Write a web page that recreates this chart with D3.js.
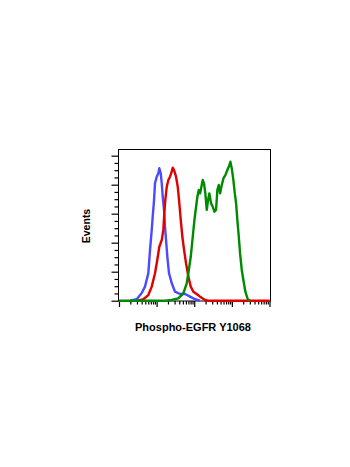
<!DOCTYPE html>
<html>
<head>
<meta charset="utf-8">
<script src="https://cdn.jsdelivr.net/npm/d3@7"></script>
<style>
  body { margin: 0; background: #fff; }
  text { font-family: "Liberation Sans", Arial, sans-serif; font-weight: bold; }
</style>
</head>
<body>
<div id="chart"></div>
<script>
// histogram data: intensity (log axis) and event counts
var blueX  = [1.96, 2.96, 4.02, 4.91, 6.01, 6.67, 7.41, 7.87, 8.53, 9.06, 10.07, 11.1, 11.8, 12.85, 13.67, 14.53, 15.73, 16.72, 17.78, 19.27, 21.36, 25.22, 30.85, 41.9, 56.9, 77.3, 105, 142.6]
var blueY  = [0, 1.0, 5.3, 9.7, 18.9, 34.9, 48.8, 57.9, 69.4, 81.0, 85.5, 87.9, 91.3, 87.9, 81.0, 71.7, 62.6, 51.0, 41.9, 30.3, 18.9, 12.0, 6.2, 4.6, 4.6, 2.8, 1.0, 0]
var redX   = [3.26, 4.43, 6.01, 7.41, 9.06, 10.4, 11.8, 13.7, 15.1, 16.0, 17.0, 18.6, 20.5, 22.7, 25.2, 26.8, 29.0, 32.8, 36.4, 39.4, 43.8, 48.3, 53.6, 60.5, 69.7, 80.7, 94.6, 116, 143, 194, 237, 10000]
var redY   = [0, 1.0, 3.9, 9.7, 18.9, 28.1, 37.2, 41.9, 48.8, 60.3, 69.4, 78.6, 83.2, 85.5, 89.0, 91.7, 90.1, 85.5, 78.6, 69.4, 55.7, 44.1, 35.0, 25.8, 16.6, 9.7, 6.2, 4.6, 2.8, 0.5, 0, 0]
var greenX = [1, 16.7, 25.2, 37.8, 51.3, 63.1, 69.7, 80.7, 91.2, 101, 112, 121, 132, 143, 155, 168, 182, 197, 215, 233, 252, 280, 310, 343, 380, 411, 448, 486, 526, 595, 672, 759, 859, 912, 994, 1096, 1196, 1295, 1400, 1527, 1652, 1833, 2023, 2286, 2648, 3048]
var greenY = [0, 0, 0.5, 1.6, 5.1, 12.0, 18.9, 30.3, 44.1, 55.6, 64.8, 71.7, 76.3, 74.0, 78.6, 83.2, 80.9, 74.0, 62.6, 69.4, 74.0, 67.1, 64.8, 61.4, 62.6, 76.3, 79.8, 74.0, 78.6, 84.3, 86.6, 90.1, 93.5, 95.8, 91.2, 83.2, 74.0, 67.1, 55.6, 44.1, 32.6, 21.2, 14.3, 6.2, 1.0, 0]
var yMajor = [0, 20, 40, 60, 80, 100]
var xMajor = [1, 10, 100, 1000, 10000]
var xLabel = 'Phospho-EGFR Y1068'
var yLabel = 'Events'

var svg = d3.select('#chart').append('svg')
    .attr('width', 350).attr('height', 467)

var x = d3.scaleLog().domain([1, 10000]).range([119, 269.5])
var y = d3.scaleLinear().domain([0, 104.4]).range([300.7, 149.3])

// frame
svg.append('rect')
    .attr('x', 118.5).attr('y', 149.5)
    .attr('width', 152).attr('height', 151.5)
    .attr('fill', 'none').attr('stroke', '#000').attr('stroke-width', 1)

// y axis: major every 20, minor every 5
var yMinor = d3.range(0, 101, 5).filter(function (v) { return yMajor.indexOf(v) < 0 })
var yAxis = svg.append('g').attr('transform', 'translate(118.5,0)')
yAxis.call(d3.axisLeft(y).tickValues(yMajor).tickSize(7).tickFormat(''))
yAxis.append('g').call(d3.axisLeft(y).tickValues(yMinor).tickSize(4).tickFormat(''))
yAxis.selectAll('.domain').remove()
yAxis.selectAll('line').attr('stroke-width', 1.2)

// x axis: decades with log minor ticks
var xMinor = []
xMajor.slice(0, -1).forEach(function (d) {
    for (var k = 2; k < 10; k++) xMinor.push(d * k)
})
var xAxis = svg.append('g').attr('transform', 'translate(0,301)')
xAxis.call(d3.axisBottom(x).tickValues(xMajor).tickSize(6).tickFormat(''))
xAxis.append('g').call(d3.axisBottom(x).tickValues(xMinor).tickSize(3.5).tickFormat(''))
xAxis.selectAll('.domain').remove()
xAxis.selectAll('line').attr('stroke-width', 1.2)

var line = d3.line()
    .x(function (d) { return x(d[0]) })
    .y(function (d) { return y(d[1]) })

var series = [
    { xs: blueX, ys: blueY, color: '#4a4aff' },
    { xs: redX, ys: redY, color: '#e00000' },
    { xs: greenX, ys: greenY, color: '#008a00' }
]
series.forEach(function (s) {
    svg.append('path')
        .datum(d3.zip(s.xs, s.ys))
        .attr('d', line)
        .attr('fill', 'none')
        .attr('stroke', s.color)
        .attr('stroke-width', 2.4)
        .attr('stroke-linejoin', 'round')
})

svg.append('text')
    .attr('x', 193).attr('y', 330.5)
    .attr('text-anchor', 'middle')
    .style('font-size', '11px')
    .text(xLabel)

svg.append('text')
    .attr('transform', 'translate(89.5,226) rotate(-90)')
    .attr('text-anchor', 'middle')
    .style('font-size', '10.5px')
    .text(yLabel)
</script>
</body>
</html>
